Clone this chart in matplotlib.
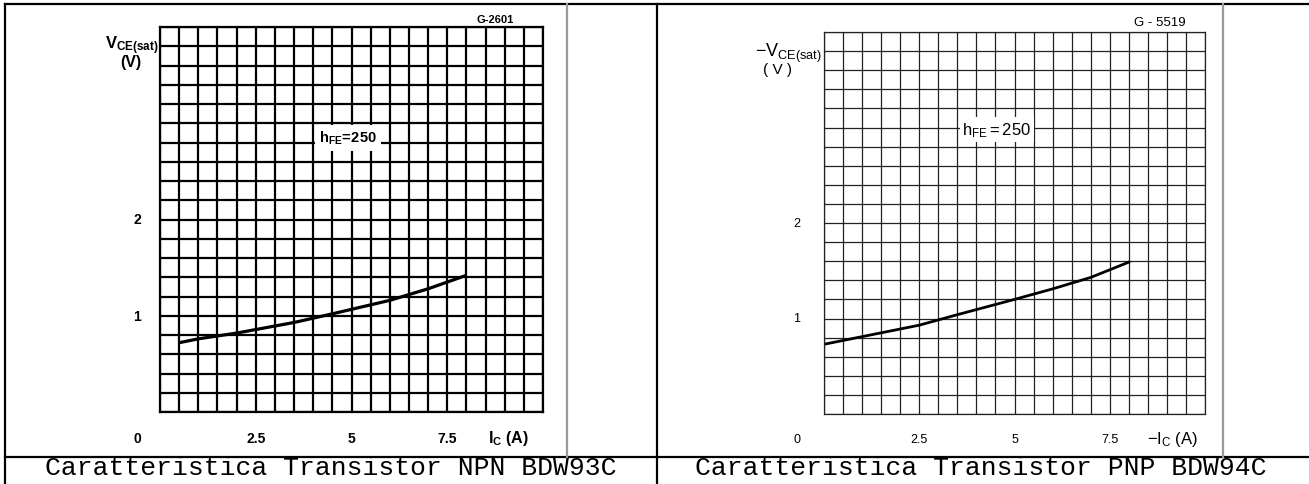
import numpy as np
import matplotlib
matplotlib.use("Agg")
import matplotlib.pyplot as plt

plt.rcParams['mathtext.fontset'] = 'custom'
plt.rcParams['mathtext.rm'] = 'Liberation Sans'
plt.rcParams['mathtext.bf'] = 'Liberation Sans:bold'
plt.rcParams['mathtext.it'] = 'Liberation Sans:italic'
plt.rcParams['font.family'] = 'Liberation Sans'

W, H = 1309, 485

# V_CE(sat) vs I_C, hFE = 250
npn_ic = [0.5, 1.0, 2.0, 3.5, 4.5, 6.0, 7.0, 8.0]
npn_vce = [0.72, 0.76, 0.82, 0.93, 1.02, 1.16, 1.28, 1.42]
pnp_ic = [0.0, 1.0, 2.5, 3.5, 5.0, 6.0, 7.0, 8.0]
pnp_vce = [0.73, 0.81, 0.93, 1.04, 1.20, 1.31, 1.43, 1.59]

x_ticks = [2.5, 5, 7.5]
y_ticks = [1, 2]
captions = ["Caratteristica Transistor NPN BDW93C",
            "Caratteristica Transistor PNP BDW94C"]

fig = plt.figure(figsize=(W / 100, H / 100), dpi=100)

# page layer in pixel units for the table frame and captions
page = fig.add_axes([0, 0, 1, 1])
page.set_xlim(0, W)
page.set_ylim(H, 0)
page.axis('off')
page.plot([5, W], [5, 5], color='black', lw=1.6)
page.plot([5, 5], [5, H], color='black', lw=1.6)
page.plot([5, W], [458, 458], color='black', lw=1.6)
page.plot([657, 657], [5, H], color='black', lw=1.6)
page.plot([567, 567], [5, 458], color='#999999', lw=1.6)
page.plot([1223, 1223], [5, 458], color='#999999', lw=1.6)
page.text(331, 475, captions[0], family='Liberation Mono', fontsize=19,
          ha='center', va='baseline')
page.text(981, 475, captions[1], family='Liberation Mono', fontsize=19,
          ha='center', va='baseline')


def make_chart(px_left, px_top, px_w, px_h, grid_lw, grid_color):
    ax = fig.add_axes([px_left / W, 1 - (px_top + px_h) / H, px_w / W, px_h / H])
    ax.set_xlim(0, 10)
    ax.set_ylim(0, 4)
    ax.set_xticks(np.arange(0, 10.01, 0.5))
    ax.set_yticks(np.arange(0, 4.01, 0.2))
    ax.tick_params(length=0, labelbottom=False, labelleft=False)
    ax.grid(True, color=grid_color, lw=grid_lw)
    for s in ax.spines.values():
        s.set_color(grid_color)
        s.set_linewidth(grid_lw)
    ax.set_facecolor('none')
    return ax


# NPN chart
ax1 = make_chart(160, 28, 383, 385, 1.6, 'black')
ax1.plot(npn_ic, npn_vce, color='black', lw=2.3, solid_capstyle='butt')
bold = dict(fontweight='bold', fontsize=10, ha='center', va='center', clip_on=False)
ax1.text(-0.6, -0.27, '0', **bold)
for t in x_ticks:
    ax1.text(t, -0.27, str(t), **bold)
for t in y_ticks:
    ax1.text(-0.6, t, str(t), **bold)
ax1.text(9.1, -0.27, r'$\mathbf{I_C}$ (A)', fontweight='bold', fontsize=11.5,
         ha='center', va='center', clip_on=False)
ax1.text(-0.03, 3.82, r'$\mathbf{V_{CE(sat)}}$', fontsize=12, ha='right',
         va='center', clip_on=False)
ax1.text(-0.75, 3.64, '(V)', fontweight='bold', fontsize=11.5, ha='center',
         va='center', clip_on=False)
ax1.text(4.91, 2.85, r'$\mathbf{h_{FE}\!=\!250}$', fontsize=10.5, ha='center',
         va='center', bbox=dict(facecolor='white', edgecolor='none', pad=3))
ax1.text(8.75, 4.03, 'G-2601', fontsize=8, fontweight='bold', ha='center',
         va='bottom', clip_on=False)

# PNP chart
ax2 = make_chart(824, 33, 381, 382, 0.9, '#222222')
ax2.plot(pnp_ic, pnp_vce, color='black', lw=2.0)
reg = dict(fontsize=9, ha='center', va='center', clip_on=False)
ax2.text(-0.71, -0.26, '0', **reg)
for t in x_ticks:
    ax2.text(t, -0.26, str(t), **reg)
for t in y_ticks:
    ax2.text(-0.71, t, str(t), **reg)
ax2.text(9.16, -0.26, r'$-\mathrm{I_C}$ (A)', fontsize=12, ha='center',
         va='center', clip_on=False)
ax2.text(-0.05, 3.79, r'$-\mathrm{V_{CE(sat)}}$', fontsize=13, ha='right',
         va='center', clip_on=False)
ax2.text(-1.21, 3.61, '( V )', fontsize=11, ha='center', va='center',
         clip_on=False)
ax2.text(4.54, 2.98, r'$\mathrm{h_{FE}=250}$', fontsize=12, ha='center',
         va='center', bbox=dict(facecolor='white', edgecolor='none', pad=2))
ax2.text(8.82, 4.04, 'G - 5519', fontsize=9.5, ha='center', va='bottom',
         clip_on=False)

fig.savefig('out.png', dpi=100)
